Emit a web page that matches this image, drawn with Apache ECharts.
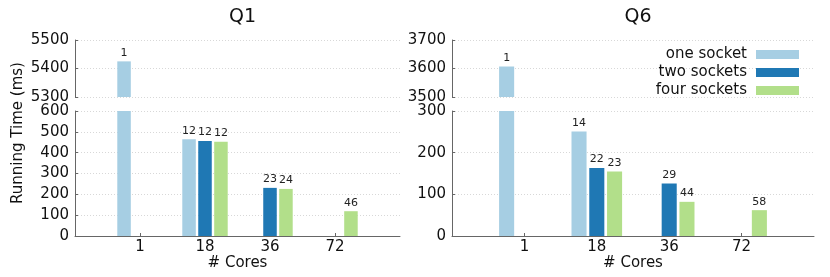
<!DOCTYPE html>
<html>
<head>
<meta charset="utf-8">
<script src="https://cdn.jsdelivr.net/npm/echarts@6/dist/echarts.min.js"></script>
<style>html,body{margin:0;padding:0;background:#fff}#c{width:830px;height:277px}</style>
</head>
<body>
<div id="c"></div>
<script>
// ---- data ----
const cores = ['1', '18', '36', '72'];
const seriesNames = ['one socket', 'two sockets', 'four sockets'];
const q1One  = [5425, 464, null, null];
const q1Two  = [null, 456, 231, null];
const q1Four = [null, 452, 226, 119];
const q1OneLbl  = [1, 12, null, null];
const q1TwoLbl  = [null, 12, 23, null];
const q1FourLbl = [null, 12, 24, 46];
const q6One  = [3607, 251, null, null];
const q6Two  = [null, 163, 126, null];
const q6Four = [null, 155, 82, 62];
const q6OneLbl  = [1, 14, null, null];
const q6TwoLbl  = [null, 22, 29, null];
const q6FourLbl = [null, 23, 44, 58];
const q1TopTicks = [5300, 5500, 100];
const q1BotTicks = [0, 600, 100];
const q6TopTicks = [3500, 3700, 100];
const q6BotTicks = [0, 300, 100];

const colors = ['#a6cee3', '#1f78b4', '#b2df8a'];
const FONT = 'DejaVu Sans';
const xCats = [''].concat(cores, ['']);

const grids = [
  {left: 75, width: 325, top: 40, height: 57},
  {left: 75, width: 325, top: 111, height: 125},
  {left: 452, width: 362, top: 40, height: 57},
  {left: 452, width: 362, top: 111, height: 125}
];

function xAxis(gi, show) {
  return {
    type: 'category', gridIndex: gi, data: xCats, boundaryGap: false,
    show: true,
    axisLine: {show: show, lineStyle: {color: '#666', width: 1}},
    axisTick: {show: show, inside: true, length: 3, lineStyle: {color: '#666'},
      interval: (i, v) => v !== ''},
    axisLabel: {show: show, interval: 0, color: '#111', fontFamily: FONT, fontSize: 15, margin: 4},
    splitLine: {show: false},
    name: show ? '# Cores' : '', nameLocation: 'middle', nameGap: 14,
    nameTextStyle: {color: '#111', fontFamily: FONT, fontSize: 15}
  };
}
function yAxis(gi, t) {
  return {
    type: 'value', gridIndex: gi, min: t[0], max: t[1], interval: t[2],
    axisLine: {show: true, lineStyle: {color: '#666', width: 1}},
    axisTick: {show: true, inside: true, length: 3, lineStyle: {color: '#666'}},
    axisLabel: {color: '#111', fontFamily: FONT, fontSize: 15, margin: 6,
      formatter: v => String(v)},
    splitLine: {show: true, lineStyle: {type: [1, 2], color: '#d8d8d8', width: 1}}
  };
}

function makeSeries(vals, lbls, ci, axisIdx, isTop, breakVal) {
  const data = [null];
  vals.forEach((v, i) => {
    if (v == null) { data.push(null); return; }
    const inTop = v > breakVal;
    const showLbl = isTop ? inTop : !inTop;
    data.push({
      value: v,
      label: {show: showLbl && lbls[i] != null, formatter: String(lbls[i])}
    });
  });
  data.push(null);
  return {
    type: 'bar', name: seriesNames[ci], xAxisIndex: axisIdx, yAxisIndex: axisIdx,
    data: data, barWidth: '20.8%', barGap: '18%', clip: true,
    itemStyle: {color: colors[ci]},
    label: {position: 'top', distance: 3, color: '#222', fontFamily: FONT, fontSize: 11},
    emphasis: {disabled: true}
  };
}

const series = [];
const panels = [
  {vals: [q1One, q1Two, q1Four], lbls: [q1OneLbl, q1TwoLbl, q1FourLbl], top: 0, bot: 1, brk: q1BotTicks[1]},
  {vals: [q6One, q6Two, q6Four], lbls: [q6OneLbl, q6TwoLbl, q6FourLbl], top: 2, bot: 3, brk: q6BotTicks[1]}
];
panels.forEach(p => {
  for (let k = 0; k < 3; k++) {
    series.push(makeSeries(p.vals[k], p.lbls[k], k, p.top, true, p.brk));
    series.push(makeSeries(p.vals[k], p.lbls[k], k, p.bot, false, p.brk));
  }
});

const chart = echarts.init(document.getElementById('c'), null, {renderer: 'canvas'});
chart.setOption({
  animation: false,
  backgroundColor: '#fff',
  title: [
    {text: 'Q1', left: 237.5, top: 3, textAlign: 'center',
     textStyle: {fontFamily: FONT, fontSize: 19, fontWeight: 'normal', color: '#111'}},
    {text: 'Q6', left: 633, top: 3, textAlign: 'center',
     textStyle: {fontFamily: FONT, fontSize: 19, fontWeight: 'normal', color: '#111'}}
  ],
  grid: grids,
  xAxis: [xAxis(0, false), xAxis(1, true), xAxis(2, false), xAxis(3, true)],
  yAxis: [yAxis(0, q1TopTicks), yAxis(1, q1BotTicks), yAxis(2, q6TopTicks), yAxis(3, q6BotTicks)],
  legend: {
    data: seriesNames, orient: 'vertical', align: 'right', right: 26, top: 42,
    itemWidth: 43, itemHeight: 9, itemGap: 3, icon: 'rect',
    textStyle: {fontFamily: FONT, fontSize: 15, color: '#111', padding: [0, 4, 0, 0]}
  },
  graphic: [{
    type: 'text', x: 18, y: 133, rotation: Math.PI / 2,
    style: {text: 'Running Time (ms)', fontFamily: FONT, fontSize: 15, fill: '#111',
      textAlign: 'center', textVerticalAlign: 'middle'}
  }],
  series: series
});
</script>
</body>
</html>
